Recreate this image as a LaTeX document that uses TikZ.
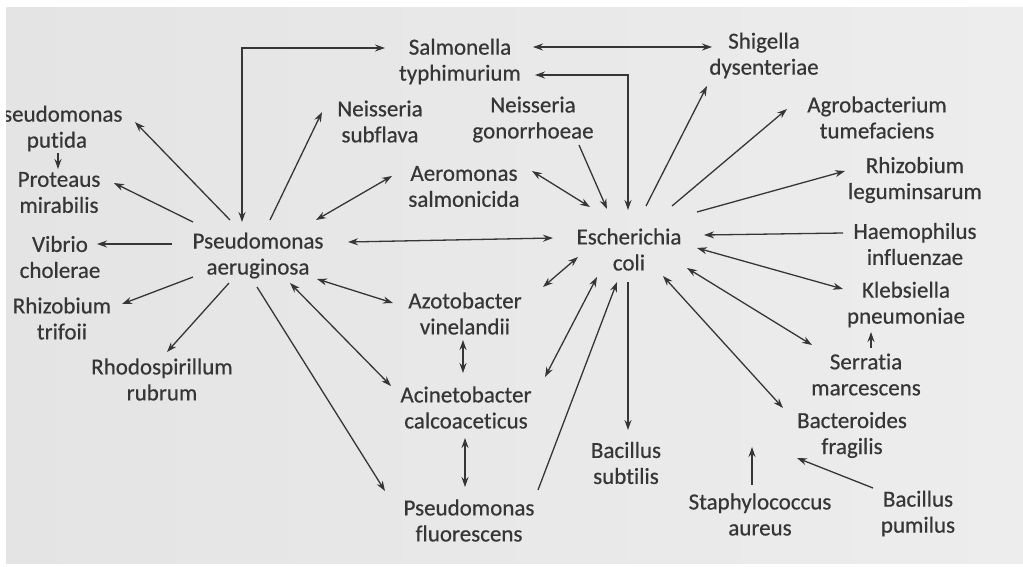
\documentclass[tikz,border=0pt]{standalone}
\usepackage{fontspec}
\setmainfont{Carlito}[Ligatures=NoCommon,FakeBold=0.5]
\usetikzlibrary{arrows.meta,calc}
\definecolor{ink}{HTML}{363636}
\definecolor{paperL}{HTML}{E4E4E4}
\definecolor{paperR}{HTML}{EDEDED}
\begin{document}
\begin{tikzpicture}[x=1pt,y=-1pt,
  lbl/.style={text=ink,align=center,inner sep=0pt,font=\fontsize{23}{26}\selectfont},
  con/.style={draw=ink,line width=1.3pt,-{Stealth[length=10pt,width=7pt]}},
  bicon/.style={draw=ink,line width=1.3pt,{Stealth[length=10pt,width=7pt]}-{Stealth[length=10pt,width=7pt]}}]
\useasboundingbox (0,0) rectangle (1023,566);
\fill[white] (0,0) rectangle (1023,566);
\begin{scope}
\clip (6,7) rectangle (1023,563);
\shade[left color=paperL,right color=paperR] (6,7) rectangle (1023,563);
% nodes
\node[lbl] (sal) at (460,61.5) {Salmonella\\typhimurium};
\node[lbl] (shi) at (764,55.5) {Shigella\\dysenteriae};
\node[lbl] (agr) at (877,117.5) {Agrobacterium\\tumefaciens};
\node[lbl] (rle) at (915,180) {Rhizobium\\leguminsarum};
\node[lbl] (hae) at (915,244) {Haemophilus\\influenzae};
\node[lbl] (kle) at (906,304.5) {Klebsiella\\pneumoniae};
\node[lbl] (ser) at (866,374.5) {Serratia\\marcescens};
\node[lbl] (bac) at (852,435) {Bacteroides\\fragilis};
\node[lbl] (bpu) at (918,513.5) {Bacillus\\pumilus};
\node[lbl] (sta) at (760,514.5) {Staphylococcus\\aureus};
\node[lbl] (bsu) at (626,463) {Bacillus\\subtilis};
\node[lbl] (eco) at (629,249.5) {Escherichia\\coli};
\node[lbl] (ngo) at (533,119.5) {Neisseria\\gonorrhoeae};
\node[lbl] (nsu) at (380,121.5) {Neisseria\\subflava};
\node[lbl] (aer) at (464,186.5) {Aeromonas\\salmonicida};
\node[lbl] (pa) at (258,255.5) {Pseudomonas\\aeruginosa};
\node[lbl] (ppu) at (57,128.5) {Pseudomonas\\putida};
\node[lbl] (pmi) at (59,192.5) {Proteaus\\mirabilis};
\node[lbl] (vch) at (60,257) {Vibrio\\cholerae};
\node[lbl] (rtr) at (62,318.5) {Rhizobium\\trifoii};
\node[lbl] (rru) at (162,379.5) {Rhodospirillum\\rubrum};
\node[lbl] (azo) at (465,313.5) {Azotobacter\\vinelandii};
\node[lbl] (aci) at (466,407.5) {Acinetobacter\\calcoaceticus};
\node[lbl] (pfl) at (469,520.5) {Pseudomonas\\fluorescens};
\coordinate (staend) at (752,447);
\coordinate (bpuend) at (797,458);
% connectors around Pseudomonas aeruginosa
\draw[bicon] ($(pa)+(-16,-33.5)$) |- ($(sal)+(-75,-13.5)$);
\draw[con] ($(pa)+(-28,-35.5)$) -- ($(ppu)+(78,-6.5)$);
\draw[con] ($(pa)+(-65,-33.5)$) -- ($(pmi)+(55,-9.5)$);
\draw[con] ($(pa)+(12,-35.5)$) -- ($(nsu)+(-58,-9.5)$);
\draw[bicon] ($(pa)+(58,-35.5)$) -- ($(aer)+(-72,-10.5)$);
\draw[con] ($(pa)+(-86,-11.5)$) -- ($(vch)+(37,-13)$);
\draw[bicon] ($(pa)+(90,-13.5)$) -- ($(eco)+(-76,-11.5)$);
\draw[con] ($(ppu)+(1,24.5)$) -- ($(pmi)+(-1,-23.5)$);
\draw[con] ($(pa)+(-65,21.5)$) -- ($(rtr)+(60,-14.5)$);
\draw[con] ($(pa)+(-29,27.5)$) -- ($(rru)+(5,-27.5)$);
\draw[con] ($(pa)+(-1,31.5)$) -- ($(pfl)+(-84,-29.5)$);
\draw[bicon] ($(pa)+(32,27.5)$) -- ($(aci)+(-75,-21.5)$);
\draw[bicon] ($(pa)+(59,23.5)$) -- ($(azo)+(-72,-10.5)$);
\draw[bicon] ($(azo)+(-2,26.5)$) -- ($(aci)+(-3,-34.5)$);
\draw[bicon] ($(aci)+(-1,30.5)$) -- ($(pfl)+(-4,-33.5)$);
% connectors around Escherichia coli
\draw[bicon] ($(sal)+(73,-14.5)$) -- ($(shi)+(-52,-8.5)$);
\draw[bicon] ($(eco)+(-1,-39.5)$) |- ($(sal)+(75,13.5)$);
\draw[con] ($(ngo)+(46,25.5)$) -- ($(eco)+(-22,-40.5)$);
\draw[bicon] ($(aer)+(68,-15.5)$) -- ($(eco)+(-39,-42.5)$);
\draw[con] ($(eco)+(17,-43.5)$) -- ($(shi)+(-57,30.5)$);
\draw[con] ($(eco)+(43,-43.5)$) -- ($(agr)+(-90,-8.5)$);
\draw[con] ($(eco)+(68,-37.5)$) -- ($(rle)+(-70,-9)$);
\draw[con] ($(hae)+(-72,-11)$) -- ($(eco)+(75,-14.5)$);
\draw[bicon] ($(eco)+(68,-1.5)$) -- ($(kle)+(-63,-15.5)$);
\draw[bicon] ($(eco)+(58,18.5)$) -- ($(ser)+(-54,-29.5)$);
\draw[bicon] ($(eco)+(34,26.5)$) -- ($(bac)+(-69,-27)$);
\draw[con] ($(eco)+(-1,32.5)$) -- ($(bsu)+(2,-33)$);
\draw[con] ($(pfl)+(69,-30.5)$) -- ($(eco)+(-12,32.5)$);
\draw[bicon] ($(eco)+(-32,27.5)$) -- ($(aci)+(79,-30.5)$);
\draw[bicon] ($(eco)+(-51,7.5)$) -- ($(azo)+(78,-26.5)$);
\draw[con] ($(sta)+(-8,-29.5)$) -- (staend);
\draw[con] ($(bpu)+(-45,-25.5)$) -- (bpuend);
\draw[con] ($(ser)+(5,-26.5)$) -- ($(kle)+(-35,27.5)$);
\end{scope}
\end{tikzpicture}
\end{document}
